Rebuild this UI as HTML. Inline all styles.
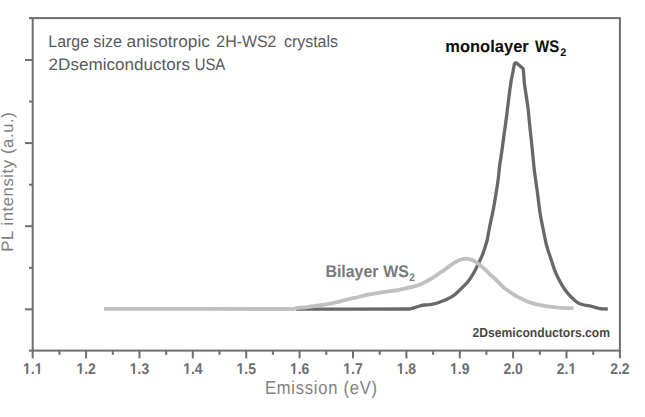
<!DOCTYPE html>
<html><head><meta charset="utf-8"><style>
html,body{margin:0;padding:0;background:#fff;}
svg{display:block;}
text{font-family:"Liberation Sans",sans-serif;text-rendering:geometricPrecision;}
.tl{font-size:15.5px;font-weight:bold;fill:#6e6e6e;}
.al{font-size:16.6px;fill:#7f7f7f;}
.ann{font-size:16.6px;fill:#595959;}
.lb{font-size:16.9px;font-weight:bold;}
.sub{font-size:11px;font-weight:bold;}
.com{font-size:13px;font-weight:bold;fill:#474747;}
</style></head><body>
<svg width="645" height="417" viewBox="0 0 645 417">
<rect x="32.7" y="18.1" width="587.2" height="332.5" fill="none" stroke="#6e6e6e" stroke-width="2"/>
<line x1="29" y1="18.1" x2="32.7" y2="18.1" stroke="#6e6e6e" stroke-width="2"/>
<line x1="25" y1="60.0" x2="32.7" y2="60.0" stroke="#6e6e6e" stroke-width="2"/>
<line x1="29" y1="101.5" x2="32.7" y2="101.5" stroke="#6e6e6e" stroke-width="2"/>
<line x1="25" y1="143.1" x2="32.7" y2="143.1" stroke="#6e6e6e" stroke-width="2"/>
<line x1="29" y1="184.7" x2="32.7" y2="184.7" stroke="#6e6e6e" stroke-width="2"/>
<line x1="25" y1="226.2" x2="32.7" y2="226.2" stroke="#6e6e6e" stroke-width="2"/>
<line x1="29" y1="267.8" x2="32.7" y2="267.8" stroke="#6e6e6e" stroke-width="2"/>
<line x1="25" y1="309.3" x2="32.7" y2="309.3" stroke="#6e6e6e" stroke-width="2"/>
<line x1="29" y1="350.6" x2="32.7" y2="350.6" stroke="#6e6e6e" stroke-width="2"/>
<line x1="32.7" y1="350.6" x2="32.7" y2="358.3" stroke="#6e6e6e" stroke-width="2"/>
<line x1="59.4" y1="350.6" x2="59.4" y2="354.8" stroke="#6e6e6e" stroke-width="2"/>
<line x1="86.1" y1="350.6" x2="86.1" y2="358.3" stroke="#6e6e6e" stroke-width="2"/>
<line x1="112.8" y1="350.6" x2="112.8" y2="354.8" stroke="#6e6e6e" stroke-width="2"/>
<line x1="139.5" y1="350.6" x2="139.5" y2="358.3" stroke="#6e6e6e" stroke-width="2"/>
<line x1="166.2" y1="350.6" x2="166.2" y2="354.8" stroke="#6e6e6e" stroke-width="2"/>
<line x1="192.8" y1="350.6" x2="192.8" y2="358.3" stroke="#6e6e6e" stroke-width="2"/>
<line x1="219.5" y1="350.6" x2="219.5" y2="354.8" stroke="#6e6e6e" stroke-width="2"/>
<line x1="246.2" y1="350.6" x2="246.2" y2="358.3" stroke="#6e6e6e" stroke-width="2"/>
<line x1="272.9" y1="350.6" x2="272.9" y2="354.8" stroke="#6e6e6e" stroke-width="2"/>
<line x1="299.6" y1="350.6" x2="299.6" y2="358.3" stroke="#6e6e6e" stroke-width="2"/>
<line x1="326.3" y1="350.6" x2="326.3" y2="354.8" stroke="#6e6e6e" stroke-width="2"/>
<line x1="353.0" y1="350.6" x2="353.0" y2="358.3" stroke="#6e6e6e" stroke-width="2"/>
<line x1="379.7" y1="350.6" x2="379.7" y2="354.8" stroke="#6e6e6e" stroke-width="2"/>
<line x1="406.4" y1="350.6" x2="406.4" y2="358.3" stroke="#6e6e6e" stroke-width="2"/>
<line x1="433.1" y1="350.6" x2="433.1" y2="354.8" stroke="#6e6e6e" stroke-width="2"/>
<line x1="459.8" y1="350.6" x2="459.8" y2="358.3" stroke="#6e6e6e" stroke-width="2"/>
<line x1="486.4" y1="350.6" x2="486.4" y2="354.8" stroke="#6e6e6e" stroke-width="2"/>
<line x1="513.1" y1="350.6" x2="513.1" y2="358.3" stroke="#6e6e6e" stroke-width="2"/>
<line x1="539.8" y1="350.6" x2="539.8" y2="354.8" stroke="#6e6e6e" stroke-width="2"/>
<line x1="566.5" y1="350.6" x2="566.5" y2="358.3" stroke="#6e6e6e" stroke-width="2"/>
<line x1="593.2" y1="350.6" x2="593.2" y2="354.8" stroke="#6e6e6e" stroke-width="2"/>
<line x1="619.9" y1="350.6" x2="619.9" y2="358.3" stroke="#6e6e6e" stroke-width="2"/>
<g transform="translate(32.70,374) scale(0.9,1)"><text x="0" y="0" class="tl" text-anchor="middle">1.1</text><rect x="-10.82" y="-2.05" width="3.66" height="2.6" fill="#fff"/><rect x="-5.03" y="-2.05" width="3.46" height="2.6" fill="#fff"/><rect x="2.11" y="-2.05" width="3.66" height="2.6" fill="#fff"/><rect x="7.90" y="-2.05" width="3.46" height="2.6" fill="#fff"/></g>
<g transform="translate(86.08,374) scale(0.9,1)"><text x="0" y="0" class="tl" text-anchor="middle">1.2</text><rect x="-10.82" y="-2.05" width="3.66" height="2.6" fill="#fff"/><rect x="-5.03" y="-2.05" width="3.46" height="2.6" fill="#fff"/></g>
<g transform="translate(139.46,374) scale(0.9,1)"><text x="0" y="0" class="tl" text-anchor="middle">1.3</text><rect x="-10.82" y="-2.05" width="3.66" height="2.6" fill="#fff"/><rect x="-5.03" y="-2.05" width="3.46" height="2.6" fill="#fff"/></g>
<g transform="translate(192.85,374) scale(0.9,1)"><text x="0" y="0" class="tl" text-anchor="middle">1.4</text><rect x="-10.82" y="-2.05" width="3.66" height="2.6" fill="#fff"/><rect x="-5.03" y="-2.05" width="3.46" height="2.6" fill="#fff"/></g>
<g transform="translate(246.23,374) scale(0.9,1)"><text x="0" y="0" class="tl" text-anchor="middle">1.5</text><rect x="-10.82" y="-2.05" width="3.66" height="2.6" fill="#fff"/><rect x="-5.03" y="-2.05" width="3.46" height="2.6" fill="#fff"/></g>
<g transform="translate(299.61,374) scale(0.9,1)"><text x="0" y="0" class="tl" text-anchor="middle">1.6</text><rect x="-10.82" y="-2.05" width="3.66" height="2.6" fill="#fff"/><rect x="-5.03" y="-2.05" width="3.46" height="2.6" fill="#fff"/></g>
<g transform="translate(352.99,374) scale(0.9,1)"><text x="0" y="0" class="tl" text-anchor="middle">1.7</text><rect x="-10.82" y="-2.05" width="3.66" height="2.6" fill="#fff"/><rect x="-5.03" y="-2.05" width="3.46" height="2.6" fill="#fff"/></g>
<g transform="translate(406.37,374) scale(0.9,1)"><text x="0" y="0" class="tl" text-anchor="middle">1.8</text><rect x="-10.82" y="-2.05" width="3.66" height="2.6" fill="#fff"/><rect x="-5.03" y="-2.05" width="3.46" height="2.6" fill="#fff"/></g>
<g transform="translate(459.75,374) scale(0.9,1)"><text x="0" y="0" class="tl" text-anchor="middle">1.9</text><rect x="-10.82" y="-2.05" width="3.66" height="2.6" fill="#fff"/><rect x="-5.03" y="-2.05" width="3.46" height="2.6" fill="#fff"/></g>
<g transform="translate(513.14,374) scale(0.9,1)"><text x="0" y="0" class="tl" text-anchor="middle">2.0</text></g>
<g transform="translate(566.52,374) scale(0.9,1)"><text x="0" y="0" class="tl" text-anchor="middle">2.1</text><rect x="2.11" y="-2.05" width="3.66" height="2.6" fill="#fff"/><rect x="7.90" y="-2.05" width="3.46" height="2.6" fill="#fff"/></g>
<g transform="translate(619.90,374) scale(0.9,1)"><text x="0" y="0" class="tl" text-anchor="middle">2.2</text></g>
<text transform="translate(321,394) scale(0.88,1)" class="al" style="font-size:18.8px" text-anchor="middle" textLength="127.3" lengthAdjust="spacing">Emission (eV)</text>
<text transform="translate(13.1,182.0) rotate(-90)" class="al" text-anchor="middle" textLength="139.5" lengthAdjust="spacing">PL intensity (a.u.)</text>
<path d="M296.00,309.10 C333.67,309.07 371.33,309.10 409.00,309.00 C410.00,309.00 411.00,308.72 412.00,308.50 C413.00,308.28 414.00,307.83 415.00,307.50 C416.57,306.99 418.13,306.40 419.70,306.00 C421.23,305.60 422.77,305.16 424.30,305.00 C426.37,304.79 428.43,304.80 430.50,304.60 C432.07,304.45 433.63,304.09 435.20,303.70 C436.73,303.32 438.27,302.67 439.80,302.10 C442.13,301.24 444.47,300.38 446.80,299.30 C448.87,298.34 450.93,297.28 453.00,295.90 C455.07,294.52 457.13,292.51 459.20,290.60 C460.77,289.15 462.33,287.49 463.90,285.90 C465.20,284.58 466.50,283.46 467.80,281.90 C469.43,279.94 471.07,277.42 472.70,274.70 C473.97,272.59 475.23,270.02 476.50,267.50 C477.60,265.31 478.70,262.99 479.80,260.60 C480.80,258.42 481.80,256.36 482.80,253.80 C483.63,251.67 484.47,249.14 485.30,246.50 C485.93,244.50 486.57,242.69 487.20,240.00 C487.70,237.88 488.20,234.45 488.70,231.80 C489.17,229.33 489.63,226.87 490.10,224.60 C490.73,221.52 491.37,218.95 492.00,215.90 C492.57,213.17 493.13,210.37 493.70,207.30 C494.20,204.59 494.70,201.58 495.20,198.60 C495.67,195.81 496.13,193.00 496.60,190.00 C497.17,186.36 497.73,183.04 498.30,178.50 C498.73,175.03 499.17,169.41 499.60,166.00 C500.23,161.02 500.87,158.00 501.50,153.60 C502.07,149.66 502.63,145.15 503.20,141.00 C503.77,136.85 504.33,132.80 504.90,128.70 L506.6,116 L508.2,103 L509.8,90 L511.3,80 L512.8,72.5 L513.9,66.5 L514.6,63.4 L515.4,63.0 L516.6,63.0 L523.2,68.8 L523.7,75 L524.4,83.4 L525.6,91.8 L526.9,100.2 L528.1,108.6 L528.10,108.60 C528.47,112.40 528.83,116.27 529.20,120.00 C529.53,123.39 529.87,126.81 530.20,130.00 C530.60,133.83 531.00,137.23 531.40,141.00 C531.83,145.08 532.27,149.29 532.70,153.60 C533.23,158.91 533.77,165.45 534.30,170.00 C534.80,174.27 535.30,177.40 535.80,181.00 C536.30,184.60 536.80,187.93 537.30,191.60 C538.23,198.45 539.17,207.36 540.10,213.20 C541.20,220.08 542.30,224.95 543.40,230.40 C544.47,235.68 545.53,241.47 546.60,245.50 C547.60,249.28 548.60,251.92 549.60,255.00 C550.33,257.26 551.07,259.40 551.80,261.60 C552.80,264.60 553.80,268.05 554.80,270.60 C556.00,273.66 557.20,276.13 558.40,278.50 C559.67,281.00 560.93,283.21 562.20,285.30 C563.40,287.28 564.60,289.15 565.80,290.80 C566.83,292.22 567.87,293.56 568.90,294.70 C570.20,296.13 571.50,297.29 572.80,298.50 C574.07,299.68 575.33,301.05 576.60,301.90 C577.90,302.77 579.20,303.55 580.50,304.00 C581.80,304.45 583.10,304.75 584.40,305.00 C585.70,305.25 587.00,305.36 588.30,305.60 C589.57,305.84 590.83,306.17 592.10,306.50 C593.40,306.83 594.70,307.25 596.00,307.60 C597.30,307.95 598.60,308.44 599.90,308.60 C601.10,308.75 602.30,308.86 603.50,308.90 C604.93,308.95 606.37,308.97 607.80,309.00" fill="none" stroke="#686868" stroke-width="3.3" stroke-linejoin="round" stroke-linecap="butt"/>
<path d="M104.00,308.90 C167.17,308.93 230.33,309.00 293.50,309.00 C294.50,309.00 295.50,308.13 296.50,308.00 C298.87,307.70 301.23,307.72 303.60,307.50 C306.07,307.27 308.53,306.83 311.00,306.50 C313.50,306.16 316.00,305.85 318.50,305.50 C320.97,305.15 323.43,304.81 325.90,304.40 C328.40,303.99 330.90,303.53 333.40,303.00 C335.77,302.50 338.13,301.89 340.50,301.30 C343.43,300.57 346.37,299.69 349.30,299.00 C352.40,298.27 355.50,297.71 358.60,297.00 C361.70,296.29 364.80,295.33 367.90,294.70 C371.00,294.07 374.10,293.60 377.20,293.10 C380.30,292.60 383.40,292.14 386.50,291.70 C389.50,291.28 392.50,290.98 395.50,290.50 C397.43,290.19 399.37,289.80 401.30,289.40 C403.43,288.95 405.57,288.40 407.70,287.90 C409.80,287.40 411.90,286.97 414.00,286.40 C416.10,285.83 418.20,285.21 420.30,284.40 C422.40,283.59 424.50,282.40 426.60,281.30 C428.73,280.18 430.87,279.04 433.00,277.70 C435.10,276.38 437.20,274.64 439.30,273.20 C440.87,272.13 442.43,271.19 444.00,270.10 C445.67,268.94 447.33,267.57 449.00,266.40 C451.00,264.99 453.00,263.54 455.00,262.40 C456.60,261.49 458.20,260.49 459.80,260.00 C461.80,259.39 463.80,258.70 465.80,258.70 C467.80,258.70 469.80,259.23 471.80,259.80 C473.40,260.26 475.00,261.54 476.60,262.60 C478.17,263.64 479.73,264.92 481.30,266.20 C482.53,267.20 483.77,268.26 485.00,269.40 C486.73,271.00 488.47,272.99 490.20,274.60 C491.90,276.17 493.60,277.40 495.30,279.00 C497.03,280.63 498.77,282.71 500.50,284.40 C502.20,286.06 503.90,287.78 505.60,289.10 C507.33,290.45 509.07,291.47 510.80,292.60 C512.50,293.70 514.20,294.83 515.90,295.80 C517.63,296.79 519.37,297.63 521.10,298.50 C522.80,299.36 524.50,300.29 526.20,301.00 C527.93,301.73 529.67,302.36 531.40,302.90 C533.53,303.56 535.67,304.12 537.80,304.60 C540.37,305.18 542.93,305.70 545.50,306.10 C548.10,306.50 550.70,306.85 553.30,307.10 C556.40,307.40 559.50,307.65 562.60,307.80 C566.27,307.98 569.93,308.07 573.60,308.20" fill="none" stroke="#c0c0c0" stroke-width="3.8" stroke-linejoin="round" stroke-linecap="butt"/>
<text x="48.29" y="46.7" class="ann" textLength="40.71" lengthAdjust="spacingAndGlyphs">Large</text>
<text x="93.35" y="46.7" class="ann" textLength="28.66" lengthAdjust="spacingAndGlyphs">size</text>
<text x="126.57" y="46.7" class="ann" textLength="83.29" lengthAdjust="spacingAndGlyphs">anisotropic</text>
<text x="216.30" y="46.7" class="ann" textLength="60.10" lengthAdjust="spacingAndGlyphs">2H-WS2</text>
<text x="283.92" y="46.7" class="ann" textLength="54.05" lengthAdjust="spacingAndGlyphs">crystals</text>
<text x="48.64" y="70" class="ann" textLength="141.38" lengthAdjust="spacingAndGlyphs">2Dsemiconductors</text>
<text x="194.65" y="70" class="ann" textLength="30.58" lengthAdjust="spacingAndGlyphs">USA</text>
<text x="445.31" y="51.6" class="lb" fill="#0d0d0d" textLength="83.44" lengthAdjust="spacingAndGlyphs">monolayer</text>
<text x="534.99" y="51.6" class="lb" fill="#0d0d0d" textLength="24.20" lengthAdjust="spacingAndGlyphs">WS</text>
<text x="560.23" y="55.8" class="sub" fill="#0d0d0d" textLength="6.01" lengthAdjust="spacingAndGlyphs">2</text>
<text x="325.43" y="276.7" class="lb" fill="#7a7a7a" textLength="53.11" lengthAdjust="spacingAndGlyphs">Bilayer</text>
<text x="383.18" y="276.7" class="lb" fill="#7a7a7a" textLength="25.64" lengthAdjust="spacingAndGlyphs">WS</text>
<text x="409.25" y="280.7" class="sub" fill="#7a7a7a" textLength="5.66" lengthAdjust="spacingAndGlyphs">2</text>
<text x="472.58" y="337.2" class="com" textLength="137.47" lengthAdjust="spacingAndGlyphs">2Dsemiconductors.com</text>
</svg>
</body></html>
